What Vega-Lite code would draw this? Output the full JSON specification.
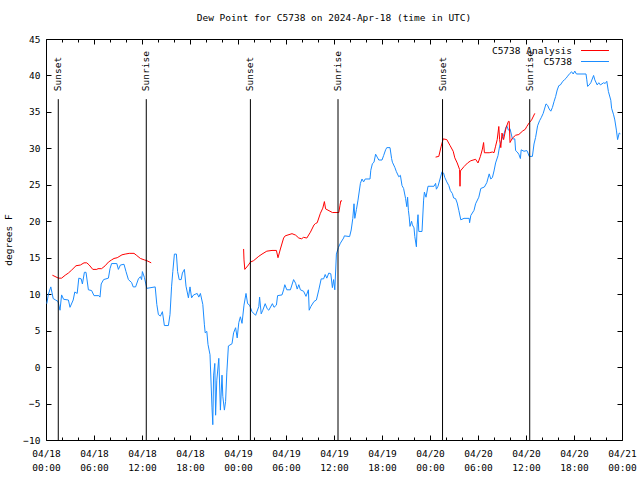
{
  "$schema": "https://vega.github.io/schema/vega-lite/v6.json",
  "width": 576,
  "height": 401,
  "autosize": "none",
  "padding": {"left": 46, "top": 39, "right": 18, "bottom": 40},
  "background": "white",
  "title": {"text": "Dew Point for C5738 on 2024-Apr-18 (time in UTC)", "font": "DejaVu Sans Mono", "fontSize": 9.5, "fontWeight": "normal", "color": "black", "anchor": "middle", "frame": "group", "offset": 12},
  "config": {
    "view": {"stroke": "black", "strokeWidth": 1},
    "font": "DejaVu Sans Mono",
    "axis": {"grid": false, "domain": false, "tickColor": "black", "tickWidth": 1, "labelColor": "black", "labelFont": "DejaVu Sans Mono", "labelFontSize": 9.5, "titleFont": "DejaVu Sans Mono", "titleFontSize": 9.5, "titleFontWeight": "normal", "titleColor": "black", "labelFlush": false, "labelOverlap": false},
    "legend": {"labelFont": "DejaVu Sans Mono", "labelFontSize": 9.5, "labelColor": "black"}
  },
  "datasets": {
    "obs": [
      {"t": "2024-04-18T00:06Z", "v": 8.7}, {"t": "2024-04-18T00:18Z", "v": 10.0}, {"t": "2024-04-18T00:36Z", "v": 11.0}, {"t": "2024-04-18T00:45Z", "v": 10.2},
      {"t": "2024-04-18T00:54Z", "v": 9.4}, {"t": "2024-04-18T01:12Z", "v": 9.2}, {"t": "2024-04-18T01:30Z", "v": 9.0}, {"t": "2024-04-18T01:45Z", "v": 7.8},
      {"t": "2024-04-18T01:57Z", "v": 9.9}, {"t": "2024-04-18T02:12Z", "v": 9.3}, {"t": "2024-04-18T02:48Z", "v": 9.2}, {"t": "2024-04-18T03:00Z", "v": 8.2},
      {"t": "2024-04-18T03:24Z", "v": 9.2}, {"t": "2024-04-18T03:36Z", "v": 10.3}, {"t": "2024-04-18T03:54Z", "v": 10.1}, {"t": "2024-04-18T04:06Z", "v": 12.2},
      {"t": "2024-04-18T04:24Z", "v": 12.1}, {"t": "2024-04-18T04:33Z", "v": 11.4}, {"t": "2024-04-18T04:48Z", "v": 13.0}, {"t": "2024-04-18T05:00Z", "v": 13.0},
      {"t": "2024-04-18T05:18Z", "v": 10.6}, {"t": "2024-04-18T05:42Z", "v": 10.5}, {"t": "2024-04-18T06:00Z", "v": 9.8}, {"t": "2024-04-18T06:36Z", "v": 9.8},
      {"t": "2024-04-18T06:45Z", "v": 9.6}, {"t": "2024-04-18T06:54Z", "v": 11.4}, {"t": "2024-04-18T07:12Z", "v": 12.0}, {"t": "2024-04-18T07:48Z", "v": 12.2},
      {"t": "2024-04-18T08:00Z", "v": 13.5}, {"t": "2024-04-18T08:12Z", "v": 14.2}, {"t": "2024-04-18T08:51Z", "v": 14.2}, {"t": "2024-04-18T09:03Z", "v": 13.4},
      {"t": "2024-04-18T09:18Z", "v": 14.0}, {"t": "2024-04-18T09:45Z", "v": 14.1}, {"t": "2024-04-18T10:00Z", "v": 13.1}, {"t": "2024-04-18T10:18Z", "v": 12.0},
      {"t": "2024-04-18T10:42Z", "v": 11.6}, {"t": "2024-04-18T10:54Z", "v": 11.0}, {"t": "2024-04-18T11:12Z", "v": 11.0}, {"t": "2024-04-18T11:33Z", "v": 12.1},
      {"t": "2024-04-18T11:48Z", "v": 12.4}, {"t": "2024-04-18T11:57Z", "v": 12.0}, {"t": "2024-04-18T12:03Z", "v": 13.1}, {"t": "2024-04-18T12:18Z", "v": 12.3},
      {"t": "2024-04-18T12:36Z", "v": 10.8}, {"t": "2024-04-18T13:39Z", "v": 11.0}, {"t": "2024-04-18T13:51Z", "v": 8.6}, {"t": "2024-04-18T14:03Z", "v": 7.2},
      {"t": "2024-04-18T14:18Z", "v": 7.0}, {"t": "2024-04-18T14:33Z", "v": 7.6}, {"t": "2024-04-18T14:48Z", "v": 5.7}, {"t": "2024-04-18T15:18Z", "v": 5.7},
      {"t": "2024-04-18T15:30Z", "v": 7.2}, {"t": "2024-04-18T15:42Z", "v": 11.1}, {"t": "2024-04-18T15:51Z", "v": 13.1}, {"t": "2024-04-18T16:03Z", "v": 15.5},
      {"t": "2024-04-18T16:18Z", "v": 15.5}, {"t": "2024-04-18T16:27Z", "v": 13.1}, {"t": "2024-04-18T16:39Z", "v": 12.0}, {"t": "2024-04-18T16:54Z", "v": 12.0},
      {"t": "2024-04-18T17:03Z", "v": 12.9}, {"t": "2024-04-18T17:18Z", "v": 13.4}, {"t": "2024-04-18T17:30Z", "v": 11.1}, {"t": "2024-04-18T17:48Z", "v": 9.5},
      {"t": "2024-04-18T18:00Z", "v": 11.0}, {"t": "2024-04-18T18:12Z", "v": 9.5}, {"t": "2024-04-18T18:27Z", "v": 9.9}, {"t": "2024-04-18T18:54Z", "v": 10.1},
      {"t": "2024-04-18T19:06Z", "v": 9.6}, {"t": "2024-04-18T19:18Z", "v": 10.1}, {"t": "2024-04-18T19:36Z", "v": 8.6}, {"t": "2024-04-18T19:48Z", "v": 5.8},
      {"t": "2024-04-18T19:54Z", "v": 4.7}, {"t": "2024-04-18T20:06Z", "v": 4.9}, {"t": "2024-04-18T20:15Z", "v": 3.1}, {"t": "2024-04-18T20:30Z", "v": 1.7},
      {"t": "2024-04-18T20:45Z", "v": -5.6}, {"t": "2024-04-18T20:51Z", "v": -7.9}, {"t": "2024-04-18T20:57Z", "v": -1.1}, {"t": "2024-04-18T21:06Z", "v": 0.5},
      {"t": "2024-04-18T21:12Z", "v": -6.6}, {"t": "2024-04-18T21:21Z", "v": -1.8}, {"t": "2024-04-18T21:36Z", "v": 1.2}, {"t": "2024-04-18T21:48Z", "v": -5.9},
      {"t": "2024-04-18T22:00Z", "v": -1.1}, {"t": "2024-04-18T22:06Z", "v": -4.0}, {"t": "2024-04-18T22:18Z", "v": -5.9}, {"t": "2024-04-18T22:27Z", "v": -4.7},
      {"t": "2024-04-18T22:36Z", "v": -0.8}, {"t": "2024-04-18T22:48Z", "v": 2.9}, {"t": "2024-04-18T23:15Z", "v": 3.2}, {"t": "2024-04-18T23:27Z", "v": 4.7},
      {"t": "2024-04-18T23:42Z", "v": 5.4}, {"t": "2024-04-18T23:54Z", "v": 4.0}, {"t": "2024-04-19T00:06Z", "v": 6.1}, {"t": "2024-04-19T00:18Z", "v": 6.9},
      {"t": "2024-04-19T00:30Z", "v": 6.0}, {"t": "2024-04-19T00:45Z", "v": 8.5}, {"t": "2024-04-19T01:00Z", "v": 10.1}, {"t": "2024-04-19T01:12Z", "v": 8.7},
      {"t": "2024-04-19T01:27Z", "v": 8.5}, {"t": "2024-04-19T01:45Z", "v": 7.6}, {"t": "2024-04-19T02:12Z", "v": 7.1}, {"t": "2024-04-19T02:36Z", "v": 8.3},
      {"t": "2024-04-19T02:42Z", "v": 9.6}, {"t": "2024-04-19T02:54Z", "v": 7.3}, {"t": "2024-04-19T03:06Z", "v": 7.8}, {"t": "2024-04-19T03:24Z", "v": 8.7},
      {"t": "2024-04-19T03:39Z", "v": 8.0}, {"t": "2024-04-19T03:51Z", "v": 7.8}, {"t": "2024-04-19T04:18Z", "v": 8.7}, {"t": "2024-04-19T04:30Z", "v": 8.2},
      {"t": "2024-04-19T04:48Z", "v": 8.5}, {"t": "2024-04-19T04:57Z", "v": 9.8}, {"t": "2024-04-19T05:30Z", "v": 9.9}, {"t": "2024-04-19T05:42Z", "v": 10.6},
      {"t": "2024-04-19T05:51Z", "v": 11.3}, {"t": "2024-04-19T06:06Z", "v": 10.6}, {"t": "2024-04-19T06:33Z", "v": 10.6}, {"t": "2024-04-19T06:57Z", "v": 12.0},
      {"t": "2024-04-19T07:12Z", "v": 11.5}, {"t": "2024-04-19T07:24Z", "v": 10.7}, {"t": "2024-04-19T07:36Z", "v": 11.3}, {"t": "2024-04-19T07:48Z", "v": 10.6},
      {"t": "2024-04-19T08:12Z", "v": 10.4}, {"t": "2024-04-19T08:30Z", "v": 9.7}, {"t": "2024-04-19T08:48Z", "v": 10.6}, {"t": "2024-04-19T08:54Z", "v": 7.8},
      {"t": "2024-04-19T09:06Z", "v": 8.3}, {"t": "2024-04-19T09:30Z", "v": 9.0}, {"t": "2024-04-19T09:48Z", "v": 9.2}, {"t": "2024-04-19T10:06Z", "v": 10.6},
      {"t": "2024-04-19T10:24Z", "v": 12.1}, {"t": "2024-04-19T10:42Z", "v": 12.1}, {"t": "2024-04-19T10:54Z", "v": 12.7}, {"t": "2024-04-19T11:06Z", "v": 12.2},
      {"t": "2024-04-19T11:21Z", "v": 12.9}, {"t": "2024-04-19T11:36Z", "v": 12.8}, {"t": "2024-04-19T11:48Z", "v": 10.9}, {"t": "2024-04-19T11:57Z", "v": 12.0},
      {"t": "2024-04-19T12:06Z", "v": 10.6}, {"t": "2024-04-19T12:18Z", "v": 15.5}, {"t": "2024-04-19T12:33Z", "v": 16.4}, {"t": "2024-04-19T12:48Z", "v": 17.0},
      {"t": "2024-04-19T13:12Z", "v": 17.7}, {"t": "2024-04-19T13:18Z", "v": 18.0}, {"t": "2024-04-19T13:57Z", "v": 17.9}, {"t": "2024-04-19T14:09Z", "v": 18.8},
      {"t": "2024-04-19T14:21Z", "v": 20.4}, {"t": "2024-04-19T14:30Z", "v": 22.4}, {"t": "2024-04-19T14:36Z", "v": 20.4}, {"t": "2024-04-19T14:48Z", "v": 21.6},
      {"t": "2024-04-19T15:00Z", "v": 22.9}, {"t": "2024-04-19T15:18Z", "v": 25.2}, {"t": "2024-04-19T15:30Z", "v": 25.8}, {"t": "2024-04-19T15:42Z", "v": 25.4},
      {"t": "2024-04-19T15:54Z", "v": 25.8}, {"t": "2024-04-19T16:30Z", "v": 25.8}, {"t": "2024-04-19T16:36Z", "v": 27.0}, {"t": "2024-04-19T16:48Z", "v": 27.9},
      {"t": "2024-04-19T17:00Z", "v": 28.1}, {"t": "2024-04-19T17:12Z", "v": 29.2}, {"t": "2024-04-19T17:24Z", "v": 28.8}, {"t": "2024-04-19T17:36Z", "v": 28.4},
      {"t": "2024-04-19T18:00Z", "v": 28.4}, {"t": "2024-04-19T18:12Z", "v": 29.0}, {"t": "2024-04-19T18:27Z", "v": 29.8}, {"t": "2024-04-19T18:36Z", "v": 30.1},
      {"t": "2024-04-19T19:00Z", "v": 30.1}, {"t": "2024-04-19T19:12Z", "v": 28.6}, {"t": "2024-04-19T19:18Z", "v": 28.1}, {"t": "2024-04-19T19:36Z", "v": 27.4},
      {"t": "2024-04-19T19:48Z", "v": 26.8}, {"t": "2024-04-19T20:06Z", "v": 26.1}, {"t": "2024-04-19T20:18Z", "v": 26.3}, {"t": "2024-04-19T20:30Z", "v": 24.9},
      {"t": "2024-04-19T20:42Z", "v": 24.5}, {"t": "2024-04-19T20:57Z", "v": 23.1}, {"t": "2024-04-19T21:06Z", "v": 22.0}, {"t": "2024-04-19T21:12Z", "v": 23.3},
      {"t": "2024-04-19T21:18Z", "v": 21.5}, {"t": "2024-04-19T21:24Z", "v": 20.6}, {"t": "2024-04-19T21:30Z", "v": 19.3}, {"t": "2024-04-19T21:42Z", "v": 20.0},
      {"t": "2024-04-19T21:48Z", "v": 19.5}, {"t": "2024-04-19T22:00Z", "v": 19.1}, {"t": "2024-04-19T22:06Z", "v": 17.9}, {"t": "2024-04-19T22:18Z", "v": 16.5},
      {"t": "2024-04-19T22:24Z", "v": 19.5}, {"t": "2024-04-19T22:30Z", "v": 20.9}, {"t": "2024-04-19T22:36Z", "v": 18.6}, {"t": "2024-04-19T23:00Z", "v": 18.6},
      {"t": "2024-04-19T23:12Z", "v": 22.9}, {"t": "2024-04-19T23:18Z", "v": 24.0}, {"t": "2024-04-19T23:30Z", "v": 23.3}, {"t": "2024-04-19T23:45Z", "v": 24.8},
      {"t": "2024-04-20T00:30Z", "v": 24.8}, {"t": "2024-04-20T00:42Z", "v": 25.2}, {"t": "2024-04-20T00:48Z", "v": 24.4}, {"t": "2024-04-20T01:00Z", "v": 24.8},
      {"t": "2024-04-20T01:15Z", "v": 25.8}, {"t": "2024-04-20T01:30Z", "v": 26.8}, {"t": "2024-04-20T01:42Z", "v": 26.6}, {"t": "2024-04-20T01:51Z", "v": 26.0},
      {"t": "2024-04-20T02:06Z", "v": 25.4}, {"t": "2024-04-20T02:21Z", "v": 24.9}, {"t": "2024-04-20T02:33Z", "v": 24.2}, {"t": "2024-04-20T02:48Z", "v": 23.8},
      {"t": "2024-04-20T02:57Z", "v": 23.2}, {"t": "2024-04-20T03:12Z", "v": 23.1}, {"t": "2024-04-20T03:24Z", "v": 22.5}, {"t": "2024-04-20T03:36Z", "v": 21.5},
      {"t": "2024-04-20T03:51Z", "v": 20.2}, {"t": "2024-04-20T04:15Z", "v": 20.4}, {"t": "2024-04-20T04:54Z", "v": 20.4}, {"t": "2024-04-20T04:57Z", "v": 19.8},
      {"t": "2024-04-20T05:06Z", "v": 20.8}, {"t": "2024-04-20T05:30Z", "v": 21.5}, {"t": "2024-04-20T05:42Z", "v": 22.4}, {"t": "2024-04-20T06:06Z", "v": 23.3},
      {"t": "2024-04-20T06:21Z", "v": 24.5}, {"t": "2024-04-20T06:48Z", "v": 24.7}, {"t": "2024-04-20T07:06Z", "v": 25.3}, {"t": "2024-04-20T07:24Z", "v": 26.5},
      {"t": "2024-04-20T07:36Z", "v": 25.8}, {"t": "2024-04-20T07:48Z", "v": 26.0}, {"t": "2024-04-20T08:00Z", "v": 26.9}, {"t": "2024-04-20T08:12Z", "v": 28.0},
      {"t": "2024-04-20T08:30Z", "v": 29.0}, {"t": "2024-04-20T08:42Z", "v": 30.3}, {"t": "2024-04-20T09:00Z", "v": 31.3}, {"t": "2024-04-20T09:15Z", "v": 32.0},
      {"t": "2024-04-20T09:30Z", "v": 32.9}, {"t": "2024-04-20T09:36Z", "v": 33.1}, {"t": "2024-04-20T09:48Z", "v": 32.5}, {"t": "2024-04-20T10:00Z", "v": 32.7},
      {"t": "2024-04-20T10:18Z", "v": 31.3}, {"t": "2024-04-20T10:36Z", "v": 31.3}, {"t": "2024-04-20T10:42Z", "v": 29.7}, {"t": "2024-04-20T10:54Z", "v": 29.5},
      {"t": "2024-04-20T11:06Z", "v": 29.2}, {"t": "2024-04-20T11:18Z", "v": 28.6}, {"t": "2024-04-20T11:24Z", "v": 29.8}, {"t": "2024-04-20T11:45Z", "v": 29.6},
      {"t": "2024-04-20T12:06Z", "v": 29.7}, {"t": "2024-04-20T12:12Z", "v": 29.5}, {"t": "2024-04-20T12:24Z", "v": 28.9}, {"t": "2024-04-20T12:48Z", "v": 28.9},
      {"t": "2024-04-20T13:00Z", "v": 30.6}, {"t": "2024-04-20T13:12Z", "v": 31.5}, {"t": "2024-04-20T13:27Z", "v": 33.1}, {"t": "2024-04-20T13:42Z", "v": 33.8},
      {"t": "2024-04-20T13:54Z", "v": 34.2}, {"t": "2024-04-20T14:09Z", "v": 34.8}, {"t": "2024-04-20T14:30Z", "v": 36.1}, {"t": "2024-04-20T14:42Z", "v": 35.9},
      {"t": "2024-04-20T14:54Z", "v": 35.4}, {"t": "2024-04-20T15:06Z", "v": 35.1}, {"t": "2024-04-20T15:18Z", "v": 35.6}, {"t": "2024-04-20T15:30Z", "v": 36.4},
      {"t": "2024-04-20T15:42Z", "v": 37.1}, {"t": "2024-04-20T15:54Z", "v": 38.0}, {"t": "2024-04-20T16:06Z", "v": 38.6}, {"t": "2024-04-20T16:18Z", "v": 38.7},
      {"t": "2024-04-20T16:36Z", "v": 39.2}, {"t": "2024-04-20T16:48Z", "v": 39.4}, {"t": "2024-04-20T17:00Z", "v": 39.6}, {"t": "2024-04-20T17:12Z", "v": 39.9},
      {"t": "2024-04-20T17:30Z", "v": 40.3}, {"t": "2024-04-20T17:42Z", "v": 40.5}, {"t": "2024-04-20T17:54Z", "v": 40.2}, {"t": "2024-04-20T18:06Z", "v": 40.6},
      {"t": "2024-04-20T18:18Z", "v": 40.2}, {"t": "2024-04-20T19:30Z", "v": 40.2}, {"t": "2024-04-20T19:36Z", "v": 39.4}, {"t": "2024-04-20T19:42Z", "v": 38.5},
      {"t": "2024-04-20T19:54Z", "v": 38.7}, {"t": "2024-04-20T20:06Z", "v": 39.0}, {"t": "2024-04-20T20:27Z", "v": 40.0}, {"t": "2024-04-20T20:36Z", "v": 39.4},
      {"t": "2024-04-20T20:54Z", "v": 38.7}, {"t": "2024-04-20T21:06Z", "v": 39.0}, {"t": "2024-04-20T21:18Z", "v": 38.7}, {"t": "2024-04-20T21:42Z", "v": 39.0},
      {"t": "2024-04-20T21:54Z", "v": 38.9}, {"t": "2024-04-20T22:06Z", "v": 39.2}, {"t": "2024-04-20T22:18Z", "v": 37.8}, {"t": "2024-04-20T22:36Z", "v": 36.6},
      {"t": "2024-04-20T22:42Z", "v": 35.5}, {"t": "2024-04-20T22:57Z", "v": 34.6}, {"t": "2024-04-20T23:06Z", "v": 33.9}, {"t": "2024-04-20T23:18Z", "v": 32.5},
      {"t": "2024-04-20T23:27Z", "v": 31.2}, {"t": "2024-04-20T23:39Z", "v": 32.1}, {"t": "2024-04-20T23:48Z", "v": 32.0}
    ],
    "analysis": [
      {"seg": "a", "t": "2024-04-18T00:48Z", "v": 12.6}, {"seg": "a", "t": "2024-04-18T01:00Z", "v": 12.5}, {"seg": "a", "t": "2024-04-18T01:33Z", "v": 12.2},
      {"seg": "a", "t": "2024-04-18T01:57Z", "v": 12.2}, {"seg": "a", "t": "2024-04-18T02:24Z", "v": 12.6}, {"seg": "a", "t": "2024-04-18T02:48Z", "v": 12.9},
      {"seg": "a", "t": "2024-04-18T03:12Z", "v": 13.3}, {"seg": "a", "t": "2024-04-18T03:45Z", "v": 13.9}, {"seg": "a", "t": "2024-04-18T04:18Z", "v": 14.0},
      {"seg": "a", "t": "2024-04-18T04:45Z", "v": 14.3}, {"seg": "a", "t": "2024-04-18T05:06Z", "v": 14.3}, {"seg": "a", "t": "2024-04-18T05:24Z", "v": 14.0},
      {"seg": "a", "t": "2024-04-18T05:51Z", "v": 13.4}, {"seg": "a", "t": "2024-04-18T06:21Z", "v": 13.4}, {"seg": "a", "t": "2024-04-18T06:30Z", "v": 13.5},
      {"seg": "a", "t": "2024-04-18T06:57Z", "v": 13.5}, {"seg": "a", "t": "2024-04-18T07:24Z", "v": 13.9}, {"seg": "a", "t": "2024-04-18T07:48Z", "v": 14.4},
      {"seg": "a", "t": "2024-04-18T08:12Z", "v": 14.7}, {"seg": "a", "t": "2024-04-18T08:30Z", "v": 14.9}, {"seg": "a", "t": "2024-04-18T08:54Z", "v": 15.0},
      {"seg": "a", "t": "2024-04-18T09:30Z", "v": 15.4}, {"seg": "a", "t": "2024-04-18T09:54Z", "v": 15.5}, {"seg": "a", "t": "2024-04-18T10:24Z", "v": 15.6},
      {"seg": "a", "t": "2024-04-18T11:00Z", "v": 15.6}, {"seg": "a", "t": "2024-04-18T11:21Z", "v": 15.3}, {"seg": "a", "t": "2024-04-18T11:48Z", "v": 14.9},
      {"seg": "a", "t": "2024-04-18T12:18Z", "v": 14.7}, {"seg": "a", "t": "2024-04-18T12:36Z", "v": 14.6}, {"seg": "a", "t": "2024-04-18T13:09Z", "v": 14.3},
      {"seg": "b", "t": "2024-04-19T00:42Z", "v": 16.2}, {"seg": "b", "t": "2024-04-19T00:45Z", "v": 14.7}, {"seg": "b", "t": "2024-04-19T00:51Z", "v": 13.4},
      {"seg": "b", "t": "2024-04-19T01:18Z", "v": 14.0}, {"seg": "b", "t": "2024-04-19T01:33Z", "v": 14.4}, {"seg": "b", "t": "2024-04-19T01:57Z", "v": 14.6},
      {"seg": "b", "t": "2024-04-19T02:36Z", "v": 15.2}, {"seg": "b", "t": "2024-04-19T03:00Z", "v": 15.5}, {"seg": "b", "t": "2024-04-19T03:36Z", "v": 15.9},
      {"seg": "b", "t": "2024-04-19T04:15Z", "v": 16.0}, {"seg": "b", "t": "2024-04-19T04:48Z", "v": 16.0}, {"seg": "b", "t": "2024-04-19T05:00Z", "v": 15.0},
      {"seg": "b", "t": "2024-04-19T05:18Z", "v": 16.2}, {"seg": "b", "t": "2024-04-19T05:42Z", "v": 17.7}, {"seg": "b", "t": "2024-04-19T05:54Z", "v": 18.0},
      {"seg": "b", "t": "2024-04-19T06:45Z", "v": 18.3}, {"seg": "b", "t": "2024-04-19T07:12Z", "v": 18.1}, {"seg": "b", "t": "2024-04-19T07:36Z", "v": 17.7},
      {"seg": "b", "t": "2024-04-19T07:57Z", "v": 17.6}, {"seg": "b", "t": "2024-04-19T08:12Z", "v": 17.8}, {"seg": "b", "t": "2024-04-19T08:36Z", "v": 17.7},
      {"seg": "b", "t": "2024-04-19T09:03Z", "v": 18.5}, {"seg": "b", "t": "2024-04-19T09:30Z", "v": 19.5}, {"seg": "b", "t": "2024-04-19T09:42Z", "v": 19.7},
      {"seg": "b", "t": "2024-04-19T09:54Z", "v": 19.8}, {"seg": "b", "t": "2024-04-19T10:18Z", "v": 21.1}, {"seg": "b", "t": "2024-04-19T10:36Z", "v": 21.8},
      {"seg": "b", "t": "2024-04-19T10:48Z", "v": 22.7}, {"seg": "b", "t": "2024-04-19T10:57Z", "v": 21.7}, {"seg": "b", "t": "2024-04-19T11:48Z", "v": 21.2},
      {"seg": "b", "t": "2024-04-19T12:36Z", "v": 21.2}, {"seg": "b", "t": "2024-04-19T12:45Z", "v": 22.2}, {"seg": "b", "t": "2024-04-19T12:51Z", "v": 22.8},
      {"seg": "b", "t": "2024-04-19T13:00Z", "v": 22.8},
      {"seg": "c", "t": "2024-04-20T00:42Z", "v": 28.8}, {"seg": "c", "t": "2024-04-20T01:06Z", "v": 28.9}, {"seg": "c", "t": "2024-04-20T01:24Z", "v": 30.3},
      {"seg": "c", "t": "2024-04-20T01:39Z", "v": 31.3}, {"seg": "c", "t": "2024-04-20T02:06Z", "v": 31.2}, {"seg": "c", "t": "2024-04-20T02:30Z", "v": 30.4},
      {"seg": "c", "t": "2024-04-20T02:54Z", "v": 29.6}, {"seg": "c", "t": "2024-04-20T03:06Z", "v": 28.7}, {"seg": "c", "t": "2024-04-20T03:24Z", "v": 28.0},
      {"seg": "c", "t": "2024-04-20T03:42Z", "v": 27.1}, {"seg": "c", "t": "2024-04-20T03:45Z", "v": 24.8}, {"seg": "c", "t": "2024-04-20T03:48Z", "v": 26.9},
      {"seg": "c", "t": "2024-04-20T04:15Z", "v": 27.5}, {"seg": "c", "t": "2024-04-20T04:42Z", "v": 28.0}, {"seg": "c", "t": "2024-04-20T05:06Z", "v": 28.3},
      {"seg": "c", "t": "2024-04-20T05:42Z", "v": 28.5}, {"seg": "c", "t": "2024-04-20T06:00Z", "v": 28.0}, {"seg": "c", "t": "2024-04-20T06:18Z", "v": 28.9},
      {"seg": "c", "t": "2024-04-20T06:33Z", "v": 29.9}, {"seg": "c", "t": "2024-04-20T06:42Z", "v": 30.8}, {"seg": "c", "t": "2024-04-20T06:48Z", "v": 29.4},
      {"seg": "c", "t": "2024-04-20T07:24Z", "v": 29.4}, {"seg": "c", "t": "2024-04-20T07:48Z", "v": 29.5}, {"seg": "c", "t": "2024-04-20T08:00Z", "v": 29.4},
      {"seg": "c", "t": "2024-04-20T08:12Z", "v": 30.3}, {"seg": "c", "t": "2024-04-20T08:24Z", "v": 31.2}, {"seg": "c", "t": "2024-04-20T08:36Z", "v": 33.0},
      {"seg": "c", "t": "2024-04-20T08:42Z", "v": 31.2}, {"seg": "c", "t": "2024-04-20T08:51Z", "v": 30.1}, {"seg": "c", "t": "2024-04-20T09:00Z", "v": 32.1},
      {"seg": "c", "t": "2024-04-20T09:12Z", "v": 31.2}, {"seg": "c", "t": "2024-04-20T09:30Z", "v": 32.8}, {"seg": "c", "t": "2024-04-20T09:48Z", "v": 33.7},
      {"seg": "c", "t": "2024-04-20T09:54Z", "v": 33.7}, {"seg": "c", "t": "2024-04-20T10:00Z", "v": 30.8}, {"seg": "c", "t": "2024-04-20T10:18Z", "v": 31.4},
      {"seg": "c", "t": "2024-04-20T10:42Z", "v": 31.8}, {"seg": "c", "t": "2024-04-20T11:06Z", "v": 31.9}, {"seg": "c", "t": "2024-04-20T11:36Z", "v": 32.4},
      {"seg": "c", "t": "2024-04-20T11:54Z", "v": 32.6}, {"seg": "c", "t": "2024-04-20T12:06Z", "v": 33.0}, {"seg": "c", "t": "2024-04-20T12:24Z", "v": 33.5},
      {"seg": "c", "t": "2024-04-20T12:42Z", "v": 33.9}, {"seg": "c", "t": "2024-04-20T13:06Z", "v": 34.8}
    ],
    "sun": [
      {"t": "2024-04-18T01:32Z", "event": "Sunset"}, {"t": "2024-04-18T12:32Z", "event": "Sunrise"},
      {"t": "2024-04-19T01:33Z", "event": "Sunset"}, {"t": "2024-04-19T12:30Z", "event": "Sunrise"},
      {"t": "2024-04-20T01:34Z", "event": "Sunset"}, {"t": "2024-04-20T12:28Z", "event": "Sunrise"}
    ]
  },
  "resolve": {"axis": {"x": "independent", "y": "independent"}},
  "layer": [
    {
      "data": {"name": "obs"},
      "mark": {"type": "line", "strokeWidth": 1},
      "encoding": {
        "x": {"field": "t", "type": "temporal",
          "scale": {"type": "utc", "domain": [{"year": 2024, "month": 4, "date": 18, "hours": 0, "utc": true}, {"year": 2024, "month": 4, "date": 21, "hours": 0, "utc": true}]},
          "axis": {"orient": "bottom", "title": null, "tickSize": -5, "labelPadding": 13, "labelLineHeight": 14,
            "values": [
              {"year": 2024, "month": 4, "date": 18, "hours": 0, "utc": true}, {"year": 2024, "month": 4, "date": 18, "hours": 6, "utc": true},
              {"year": 2024, "month": 4, "date": 18, "hours": 12, "utc": true}, {"year": 2024, "month": 4, "date": 18, "hours": 18, "utc": true},
              {"year": 2024, "month": 4, "date": 19, "hours": 0, "utc": true}, {"year": 2024, "month": 4, "date": 19, "hours": 6, "utc": true},
              {"year": 2024, "month": 4, "date": 19, "hours": 12, "utc": true}, {"year": 2024, "month": 4, "date": 19, "hours": 18, "utc": true},
              {"year": 2024, "month": 4, "date": 20, "hours": 0, "utc": true}, {"year": 2024, "month": 4, "date": 20, "hours": 6, "utc": true},
              {"year": 2024, "month": 4, "date": 20, "hours": 12, "utc": true}, {"year": 2024, "month": 4, "date": 20, "hours": 18, "utc": true},
              {"year": 2024, "month": 4, "date": 21, "hours": 0, "utc": true}],
            "labelExpr": "[utcFormat(datum.value, '%m/%d'), utcFormat(datum.value, '%H:%M')]"}},
        "y": {"field": "v", "type": "quantitative",
          "scale": {"domain": [-10, 45], "nice": false, "zero": false},
          "axis": {"orient": "left", "title": "degrees F", "values": [-10, -5, 0, 5, 10, 15, 20, 25, 30, 35, 40, 45], "tickSize": -5, "labelPadding": 11, "titlePadding": 9}},
        "color": {"datum": "C5738", "type": "nominal",
          "scale": {"domain": ["C5738 Analysis", "C5738"], "range": ["#ff0000", "#1a8cff"]},
          "legend": {"title": null, "orient": "none", "legendX": 542.5, "legendY": 5, "symbolType": "M-2.33,0H2.33", "symbolSize": 144, "symbolStrokeWidth": 1, "labelAlign": "right", "labelOffset": -29.5, "padding": 0, "rowPadding": 0}}
      }
    },
    {
      "data": {"name": "analysis"},
      "mark": {"type": "line", "strokeWidth": 1},
      "encoding": {
        "x": {"field": "t", "type": "temporal",
          "axis": {"orient": "top", "title": null, "tickSize": -5, "labels": false,
            "values": [
              {"year": 2024, "month": 4, "date": 18, "hours": 0, "utc": true}, {"year": 2024, "month": 4, "date": 18, "hours": 6, "utc": true},
              {"year": 2024, "month": 4, "date": 18, "hours": 12, "utc": true}, {"year": 2024, "month": 4, "date": 18, "hours": 18, "utc": true},
              {"year": 2024, "month": 4, "date": 19, "hours": 0, "utc": true}, {"year": 2024, "month": 4, "date": 19, "hours": 6, "utc": true},
              {"year": 2024, "month": 4, "date": 19, "hours": 12, "utc": true}, {"year": 2024, "month": 4, "date": 19, "hours": 18, "utc": true},
              {"year": 2024, "month": 4, "date": 20, "hours": 0, "utc": true}, {"year": 2024, "month": 4, "date": 20, "hours": 6, "utc": true},
              {"year": 2024, "month": 4, "date": 20, "hours": 12, "utc": true}, {"year": 2024, "month": 4, "date": 20, "hours": 18, "utc": true},
              {"year": 2024, "month": 4, "date": 21, "hours": 0, "utc": true}]}},
        "y": {"field": "v", "type": "quantitative",
          "axis": {"orient": "right", "title": null, "values": [-10, -5, 0, 5, 10, 15, 20, 25, 30, 35, 40, 45], "tickSize": -5, "labels": false}},
        "color": {"datum": "C5738 Analysis", "type": "nominal"},
        "detail": {"field": "seg", "type": "nominal"}
      }
    },
    {
      "data": {"name": "sun"},
      "mark": {"type": "rule", "color": "black", "strokeWidth": 1},
      "encoding": {
        "x": {"field": "t", "type": "temporal",
          "axis": {"orient": "bottom", "title": null, "tickSize": -3, "labels": false,
            "values": [
              {"year": 2024, "month": 4, "date": 18, "hours": 2, "utc": true}, {"year": 2024, "month": 4, "date": 18, "hours": 4, "utc": true},
              {"year": 2024, "month": 4, "date": 18, "hours": 8, "utc": true}, {"year": 2024, "month": 4, "date": 18, "hours": 10, "utc": true},
              {"year": 2024, "month": 4, "date": 18, "hours": 14, "utc": true}, {"year": 2024, "month": 4, "date": 18, "hours": 16, "utc": true},
              {"year": 2024, "month": 4, "date": 18, "hours": 20, "utc": true}, {"year": 2024, "month": 4, "date": 18, "hours": 22, "utc": true},
              {"year": 2024, "month": 4, "date": 19, "hours": 2, "utc": true}, {"year": 2024, "month": 4, "date": 19, "hours": 4, "utc": true},
              {"year": 2024, "month": 4, "date": 19, "hours": 8, "utc": true}, {"year": 2024, "month": 4, "date": 19, "hours": 10, "utc": true},
              {"year": 2024, "month": 4, "date": 19, "hours": 14, "utc": true}, {"year": 2024, "month": 4, "date": 19, "hours": 16, "utc": true},
              {"year": 2024, "month": 4, "date": 19, "hours": 20, "utc": true}, {"year": 2024, "month": 4, "date": 19, "hours": 22, "utc": true},
              {"year": 2024, "month": 4, "date": 20, "hours": 2, "utc": true}, {"year": 2024, "month": 4, "date": 20, "hours": 4, "utc": true},
              {"year": 2024, "month": 4, "date": 20, "hours": 8, "utc": true}, {"year": 2024, "month": 4, "date": 20, "hours": 10, "utc": true},
              {"year": 2024, "month": 4, "date": 20, "hours": 14, "utc": true}, {"year": 2024, "month": 4, "date": 20, "hours": 16, "utc": true},
              {"year": 2024, "month": 4, "date": 20, "hours": 20, "utc": true}, {"year": 2024, "month": 4, "date": 20, "hours": 22, "utc": true}]}},
        "y": {"datum": -10, "type": "quantitative", "axis": null},
        "y2": {"datum": 36.75}
      }
    },
    {
      "data": {"name": "sun"},
      "mark": {"type": "text", "angle": 270, "align": "left", "baseline": "middle", "font": "DejaVu Sans Mono", "fontSize": 9.5, "color": "black"},
      "encoding": {
        "x": {"field": "t", "type": "temporal",
          "axis": {"orient": "top", "title": null, "tickSize": -3, "labels": false,
            "values": [
              {"year": 2024, "month": 4, "date": 18, "hours": 2, "utc": true}, {"year": 2024, "month": 4, "date": 18, "hours": 4, "utc": true},
              {"year": 2024, "month": 4, "date": 18, "hours": 8, "utc": true}, {"year": 2024, "month": 4, "date": 18, "hours": 10, "utc": true},
              {"year": 2024, "month": 4, "date": 18, "hours": 14, "utc": true}, {"year": 2024, "month": 4, "date": 18, "hours": 16, "utc": true},
              {"year": 2024, "month": 4, "date": 18, "hours": 20, "utc": true}, {"year": 2024, "month": 4, "date": 18, "hours": 22, "utc": true},
              {"year": 2024, "month": 4, "date": 19, "hours": 2, "utc": true}, {"year": 2024, "month": 4, "date": 19, "hours": 4, "utc": true},
              {"year": 2024, "month": 4, "date": 19, "hours": 8, "utc": true}, {"year": 2024, "month": 4, "date": 19, "hours": 10, "utc": true},
              {"year": 2024, "month": 4, "date": 19, "hours": 14, "utc": true}, {"year": 2024, "month": 4, "date": 19, "hours": 16, "utc": true},
              {"year": 2024, "month": 4, "date": 19, "hours": 20, "utc": true}, {"year": 2024, "month": 4, "date": 19, "hours": 22, "utc": true},
              {"year": 2024, "month": 4, "date": 20, "hours": 2, "utc": true}, {"year": 2024, "month": 4, "date": 20, "hours": 4, "utc": true},
              {"year": 2024, "month": 4, "date": 20, "hours": 8, "utc": true}, {"year": 2024, "month": 4, "date": 20, "hours": 10, "utc": true},
              {"year": 2024, "month": 4, "date": 20, "hours": 14, "utc": true}, {"year": 2024, "month": 4, "date": 20, "hours": 16, "utc": true},
              {"year": 2024, "month": 4, "date": 20, "hours": 20, "utc": true}, {"year": 2024, "month": 4, "date": 20, "hours": 22, "utc": true}]}},
        "y": {"datum": 37.85, "type": "quantitative", "axis": null},
        "text": {"field": "event", "type": "nominal"}
      }
    }
  ]
}
